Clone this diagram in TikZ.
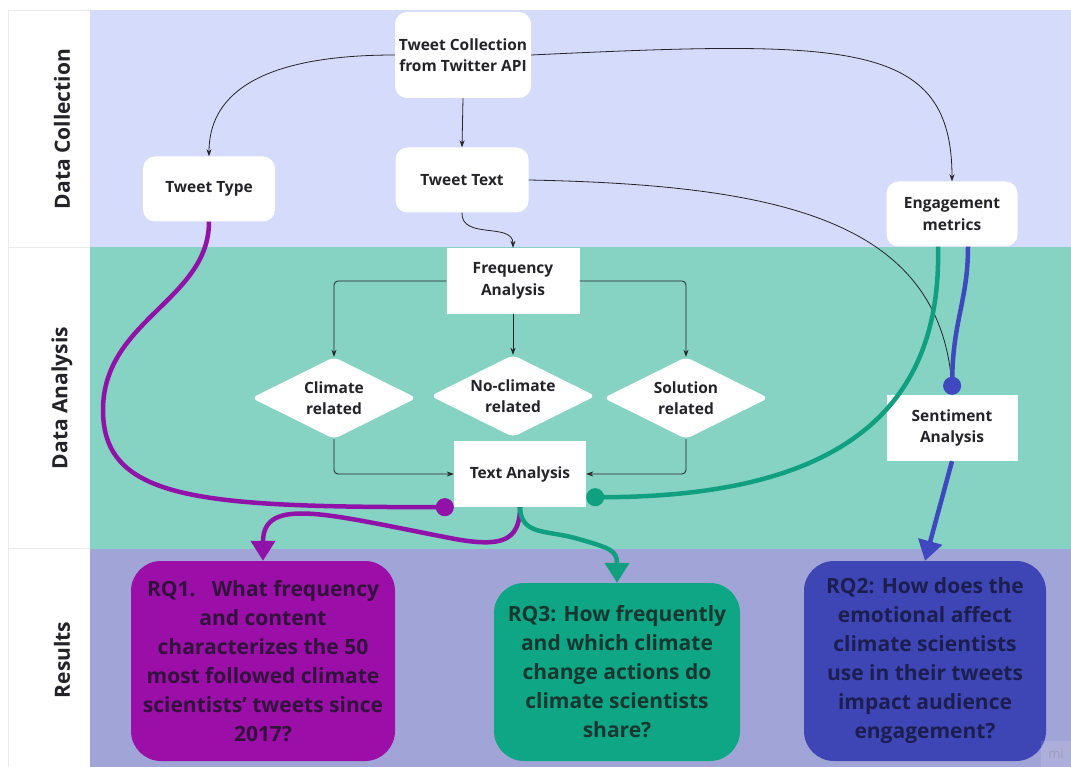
\documentclass[tikz,border=0pt]{standalone}
\usepackage{fontspec}
\setmainfont{Open Sans}
\usetikzlibrary{shapes.geometric,arrows.meta,calc}
\definecolor{bandA}{RGB}{213,219,250}
\definecolor{bandB}{RGB}{134,211,195}
\definecolor{bandC}{RGB}{160,164,214}
\definecolor{pur}{RGB}{145,18,168}
\definecolor{tea}{RGB}{16,160,128}
\definecolor{blu}{RGB}{63,72,190}
\definecolor{rqA}{RGB}{155,14,168}
\definecolor{rqB}{RGB}{14,166,133}
\definecolor{rqC}{RGB}{62,70,182}
\definecolor{ink}{RGB}{35,35,40}
\definecolor{inkA}{RGB}{50,18,60}
\definecolor{inkB}{RGB}{22,55,48}
\definecolor{inkC}{RGB}{28,30,80}
\tikzset{
  lanelabel/.style={rotate=90, text=ink, font=\bfseries\fontsize{21}{24}\selectfont},
  rbox/.style={fill=white, rounded corners=12pt, align=center, text=ink, inner sep=2pt,
    font=\bfseries\fontsize{15.5}{21.5}\selectfont},
  sbox/.style={fill=white, align=center, text=ink, inner sep=2pt,
    font=\bfseries\fontsize{15.5}{21.5}\selectfont},
  dbox/.style={diamond, shape aspect=2, fill=white, rounded corners=6pt, align=center, text=ink, inner sep=0pt,
    minimum width=165pt, minimum height=82pt, font=\bfseries\fontsize{15.5}{21.5}\selectfont},
  rq/.style={rounded corners=30pt, align=center, inner sep=2pt,
    font=\bfseries\fontsize{21}{29}\selectfont},
  thinarrow/.style={draw=ink, line width=0.8pt, -{Stealth[length=7pt,width=5pt]}},
  thinline/.style={draw=ink, line width=0.8pt},
  thick4/.style={line width=4.5pt},
  bigtip/.style={-{Triangle[length=20pt,width=24pt]}},
  dottip/.style={-{Circle[length=18pt]}}
}
\begin{document}
\begin{tikzpicture}[x=1pt,y=-1pt]
\useasboundingbox (0,0) rectangle (1071,767);
\fill[white] (0,0) rectangle (1071,767);
% bands
\fill[bandA] (90,10) rectangle (1071,247.5);
\fill[bandB] (90,247.5) rectangle (1071,548.5);
\fill[bandC] (90,548.5) rectangle (1071,767);
\draw[black!8, line width=0.8pt] (8,10) -- (8,767) (8,10) -- (90,10) (8,247.5) -- (90,247.5) (8,548.5) -- (90,548.5);
% lane labels
\node[lanelabel] (l1) at (62,129) {Data Collection};
\node[lanelabel] (l2) at (62,398) {Data Analysis};
\node[lanelabel] (l3) at (62,660) {Results};
% nodes
\node[rbox, minimum width=136pt, minimum height=86pt] (tc) at (463,55) {Tweet Collection\\from Twitter API};
\node[rbox, minimum width=132pt, minimum height=65pt] (tt) at (209,189) {Tweet Type};
\node[rbox, minimum width=133pt, minimum height=65pt] (tx) at (462,180) {Tweet Text};
\node[rbox, minimum width=131pt, minimum height=65pt] (em) at (952,214) {Engagement\\metrics};
\node[sbox, minimum width=133pt, minimum height=66pt] (fa) at (513,281) {Frequency\\Analysis};
\node[dbox] (dc) at (334,398) {Climate\\related};
\node[dbox] (dn) at (513,396) {No-climate\\related};
\node[dbox] (ds) at (686,398) {Solution\\related};
\node[sbox, minimum width=132pt, minimum height=66pt] (ta) at (520,474) {Text Analysis};
\node[sbox, minimum width=131pt, minimum height=66pt] (sa) at (952,428) {Sentiment\\Analysis};
\node[rq, fill=rqA, text=inkA, minimum width=264pt, minimum height=200pt] (rq1) at (263,661)
  {RQ1.\ \ \ What frequency\\and content\\characterizes the 50\\most followed climate\\scientists’ tweets since\\2017?};
\node[rq, fill=rqB, text=inkB, minimum width=246pt, minimum height=178pt] (rq3) at (617,672)
  {RQ3: How frequently\\and which climate\\change actions do\\climate scientists\\share?};
\node[rq, fill=rqC, text=inkC, minimum width=242pt, minimum height=200pt] (rq2) at (925,661)
  {RQ2: How does the\\emotional affect\\climate scientists\\use in their tweets\\impact audience\\engagement?};
% watermark
\node[fill=white, fill opacity=0.12, text opacity=0.35, text=gray, minimum width=31pt, minimum height=26pt,
  inner sep=0pt, font=\fontsize{13}{13}\selectfont] (wm) at (1056,754) {mi};
% thin connectors
\draw[thinarrow] (tc.west) .. controls (250,55) and (209,100) .. (tt.north);
\draw[thinarrow] (tc.south) -- (tx.north);
\draw[thinarrow] (tc.east) .. controls (850,40) and (952,40) .. (em.north);
\draw[thinarrow] (tx.south) .. controls (461,240) and (513,222) .. (fa.north);
\draw[thinline] (tx.east) .. controls (780,185) and (940,220) .. ($(sa.north)+(0,-9)$);
\draw[thinarrow, rounded corners=4pt] (fa.west) -| (dc.north);
\draw[thinarrow] (fa.south) -- (dn.north);
\draw[thinarrow, rounded corners=4pt] (fa.east) -| (ds.north);
\draw[thinarrow, rounded corners=4pt] (dc.south) |- (ta.west);
\draw[thinarrow, rounded corners=4pt] (ds.south) |- (ta.east);
% thick coloured connectors
\draw[thick4, pur, dottip] (tt.south) .. controls (209,300) and (103,320) .. (103,410)
  .. controls (103,500) and (200,507) .. (ta.south west);
\draw[thick4, pur, bigtip] (ta.south) .. controls (520,542) and (500,547) .. (455,539)
  .. controls (330,515) and (263,495) .. (rq1.north);
\draw[thick4, tea, dottip] ($(em.south)+(-14,0)$) .. controls (942,410) and (840,497) .. ($(ta.south east)+(0,-10)$);
\draw[thick4, tea, bigtip] (ta.south) .. controls (521,535) and (545,530) .. (575,538)
  .. controls (610,548) and (617,550) .. (rq3.north);
\draw[thick4, blu, dottip] ($(em.south)+(16,0)$) .. controls (968,300) and (953,320) .. (sa.north);
\draw[thick4, blu, bigtip] (sa.south) -- (rq2.north);
\end{tikzpicture}
\end{document}
